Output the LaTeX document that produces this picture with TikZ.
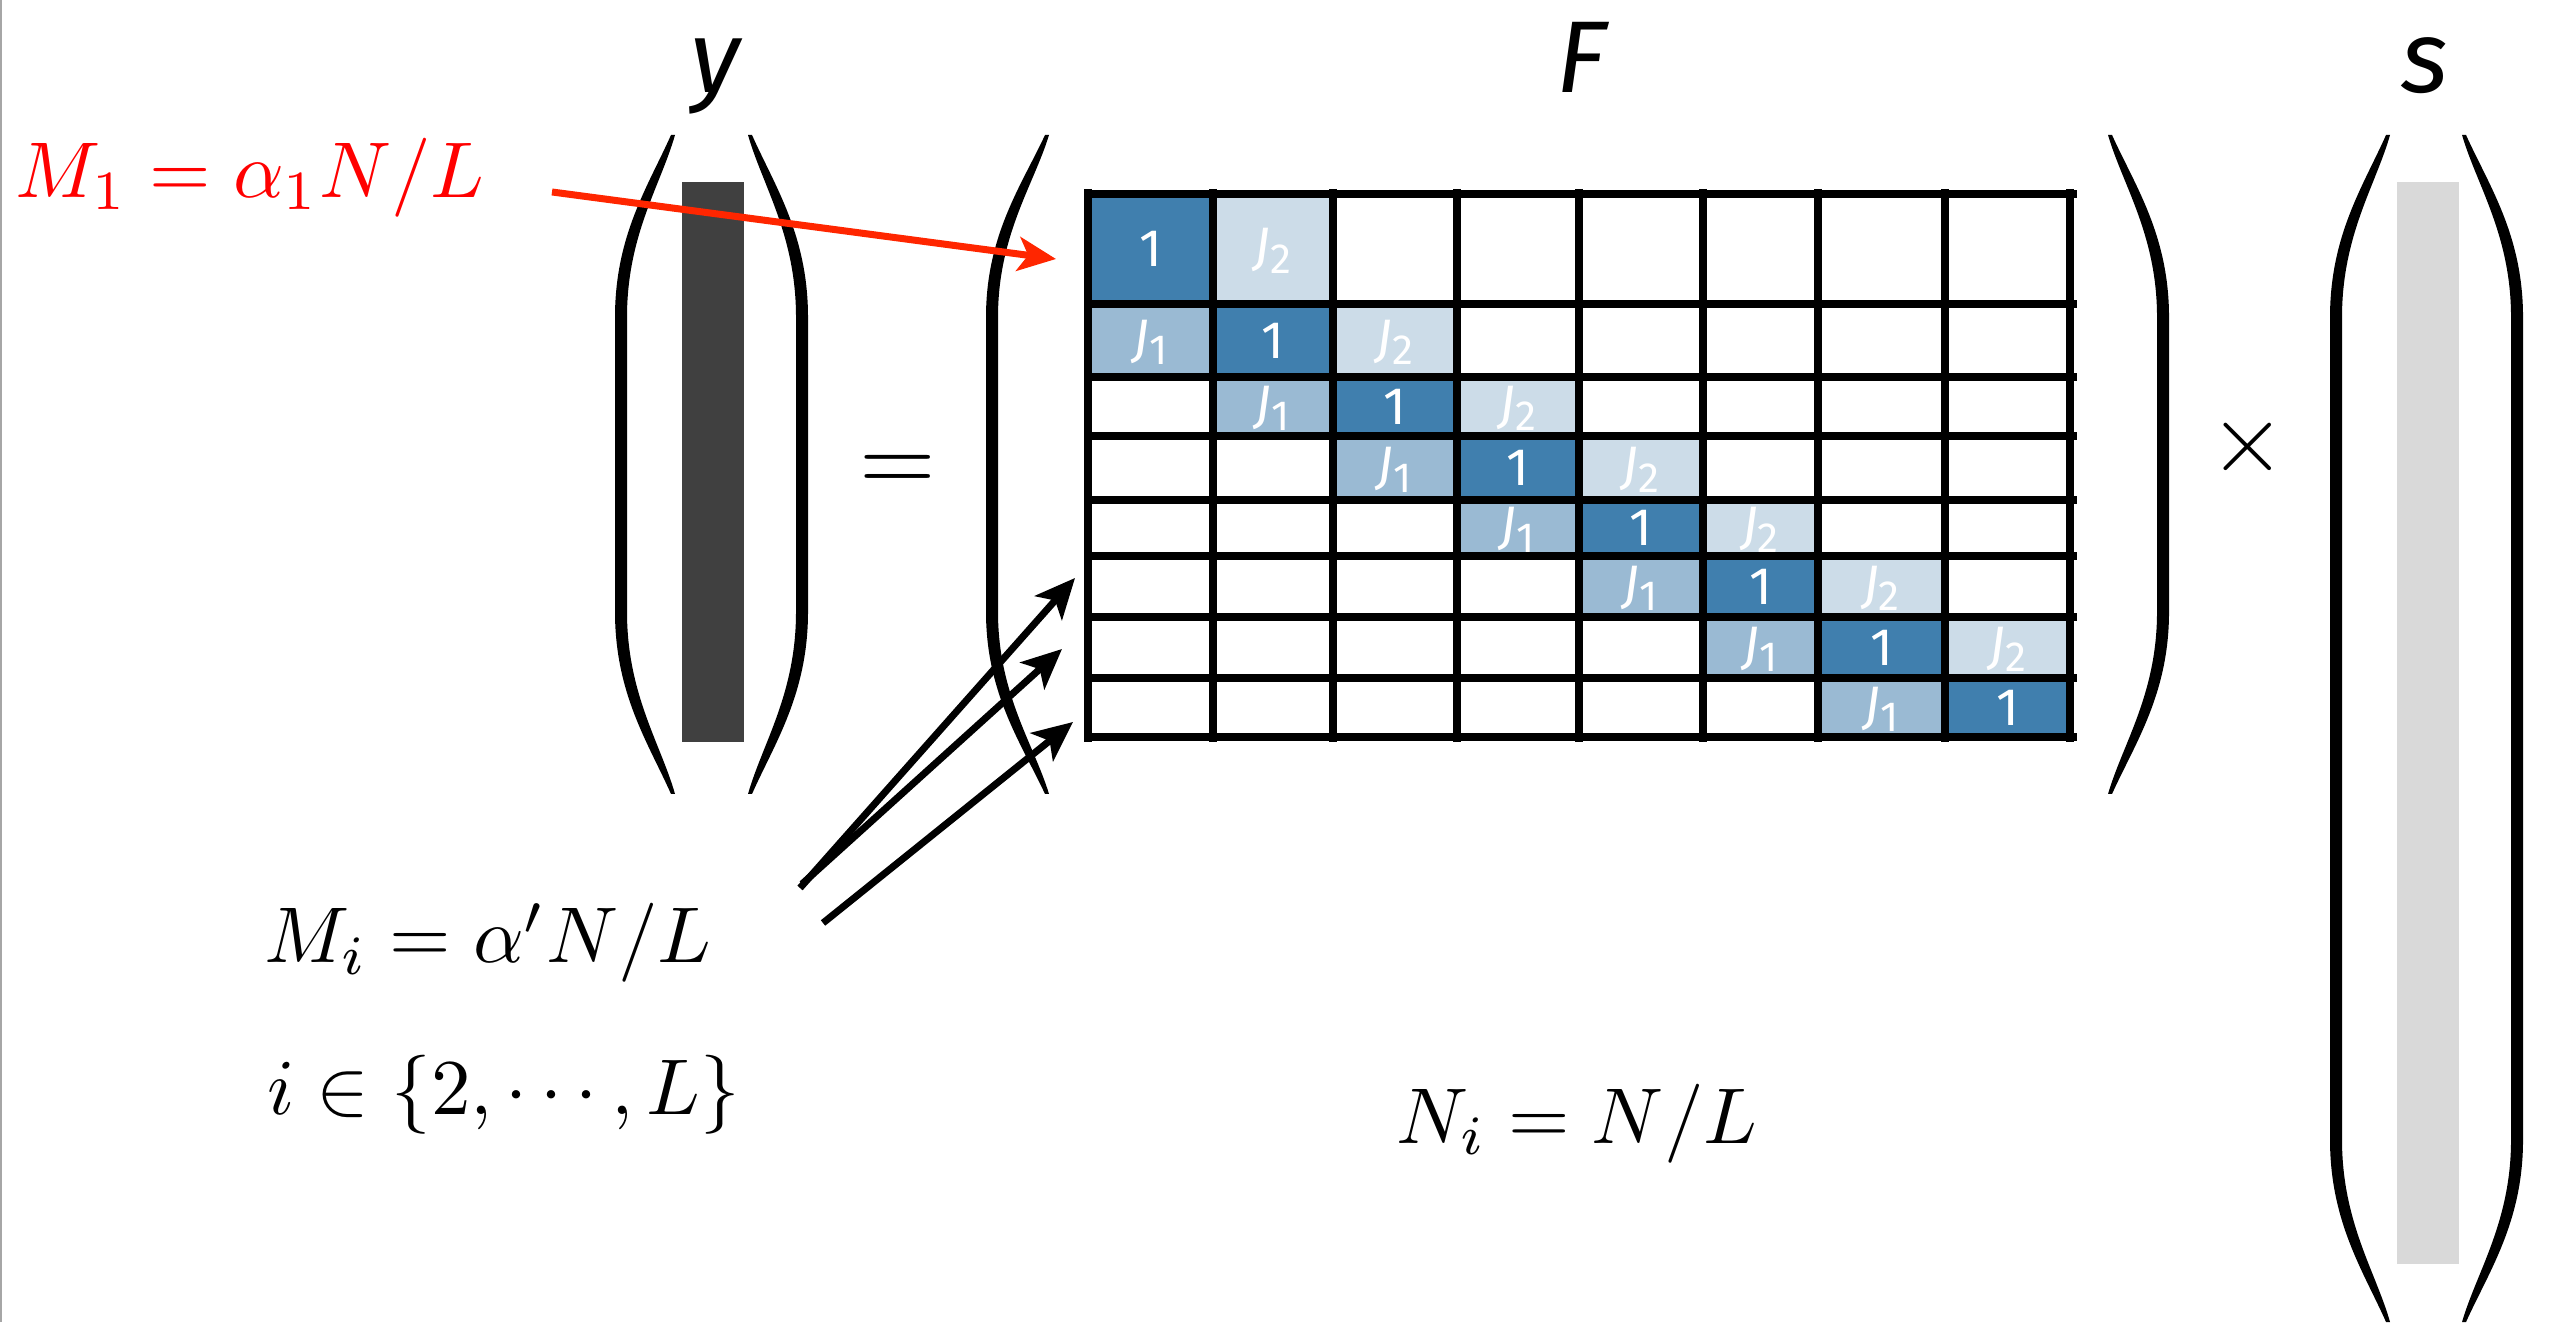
\documentclass[tikz,border=0pt]{standalone}
\usepackage{fontspec}
\setsansfont{Fira Sans}
\usetikzlibrary{arrows.meta, positioning, fit}

\definecolor{diagblue}{RGB}{64,127,174}
\definecolor{lowblue}{RGB}{154,186,211}
\definecolor{upblue}{RGB}{204,220,232}
\definecolor{ygray}{RGB}{64,64,64}
\definecolor{sgray}{RGB}{217,217,217}
\definecolor{arrowred}{RGB}{255,38,0}

% big round bracket: end x, middle x, top y, bottom y
\newcommand{\bigparen}[4]{%
  \fill ({#1-0.02},#3) .. controls ({#1+0.35*(#2-#1)-0.06},{#3-0.5}) and ({#2-0.06},{#3-1.0}) .. ({#2-0.06},{#3-1.82})
    -- ({#2-0.06},{#4+1.82}) .. controls ({#2-0.06},{#4+1.0}) and ({#1+0.35*(#2-#1)-0.06},{#4+0.5}) .. ({#1-0.02},#4)
    -- ({#1+0.02},#4) .. controls ({#1+0.35*(#2-#1)+0.06},{#4+0.5}) and ({#2+0.06},{#4+1.0}) .. ({#2+0.06},{#4+1.82})
    -- ({#2+0.06},{#3-1.82}) .. controls ({#2+0.06},{#3-1.0}) and ({#1+0.35*(#2-#1)+0.06},{#3-0.5}) .. ({#1+0.02},#3) -- cycle;}

\newcommand{\jlab}[1]{\textit{J}\raisebox{-0.3ex}{\fontsize{12}{12}\selectfont #1}}

\begin{document}
\begin{tikzpicture}[
    cell/.style={inner sep=0pt},
    celltext/.style={inner sep=0pt, anchor=base, text=white, font=\sffamily\fontsize{15}{15}\selectfont},
    gridline/.style={line width=0.085cm},
    mathlabel/.style={inner sep=0pt, anchor=base west, scale=2.25, transform shape},
    veclabel/.style={inner sep=0pt, anchor=base, font=\sffamily\itshape\fontsize{29}{34}\selectfont},
    bigop/.style={inner sep=0pt, anchor=base, scale=2.8, transform shape},
    redarrow/.style={-{Stealth[length=3.8mm, width=3.4mm, inset=1mm]}, line width=0.07cm, draw=arrowred},
    blackarrow/.style={-{Stealth[length=4mm, width=3.6mm, inset=1mm]}, line width=0.07cm}
]
    \useasboundingbox (0,0) rectangle (25.67,13.22);
    \draw[black!35, line width=0.6pt] (0.01,0) -- (0.01,13.22);

    % Vectors and brackets
    \fill[ygray] (6.82,5.80) rectangle (7.44,11.40);
    \fill[sgray] (23.97,0.58) rectangle (24.59,11.40);
    \bigparen{6.73}{6.21}{11.87}{5.28}
    \bigparen{7.50}{8.02}{11.87}{5.28}
    \bigparen{10.47}{9.92}{11.87}{5.28}
    \bigparen{21.10}{21.63}{11.87}{5.28}
    \bigparen{23.88}{23.36}{11.87}{0}
    \bigparen{24.64}{25.17}{11.87}{0}

    \node[veclabel] (ylab) at (7.15,12.29) {y};
    \node[veclabel] (flab) at (15.81,12.29) {F};
    \node[veclabel] (slab) at (24.25,12.29) {s};
    \node[bigop] (eq) at (8.98,8.30) {$=$};
    \node[bigop] (times) at (22.48,8.50) {$\times$};

    % Grid positions
    \foreach \x [count=\i from 0] in {10.88,12.13,13.33,14.57,15.79,17.03,18.18,19.45,20.70}
        \coordinate (c\i) at (\x,0);
    \foreach \y [count=\i from 0] in {11.28,10.18,9.45,8.86,8.22,7.66,7.05,6.44,5.85}
        \coordinate (r\i) at (0,\y);

    % Diagonal
    \foreach \i in {1,...,8}{
        \pgfmathtruncatemacro{\k}{\i-1}
        \node[cell, fill=diagblue, fit={(c\k|-r\k) (c\i|-r\i)}] (one\i) {};
        \node[celltext] (onetxt\i) at ([yshift=-0.18cm]one\i.center) {1};
    }
    % Below the diagonal
    \foreach \i in {2,...,8}{
        \pgfmathtruncatemacro{\k}{\i-1}
        \pgfmathtruncatemacro{\m}{\i-2}
        \node[cell, fill=lowblue, fit={(c\m|-r\k) (c\k|-r\i)}] (low\i) {};
        \node[celltext] (lowtxt\i) at ([yshift=-0.16cm]low\i.center) {\jlab{1}};
    }
    % Above the diagonal
    \foreach \i in {1,...,7}{
        \pgfmathtruncatemacro{\k}{\i-1}
        \pgfmathtruncatemacro{\n}{\i+1}
        \node[cell, fill=upblue, fit={(c\i|-r\k) (c\n|-r\i)}] (up\i) {};
        \node[celltext] (uptxt\i) at ([yshift=-0.16cm]up\i.center) {\jlab{2}};
    }

    % Grid lines
    \foreach \i in {0,...,8}
        \draw[gridline] ([xshift=-0.04cm]c0|-r\i) -- ([xshift=0.07cm]c8|-r\i);
    \foreach \i in {0,...,8}
        \draw[gridline] ([yshift=0.05cm]c\i|-r0) -- ([yshift=-0.05cm]c\i|-r8);

    % Labels
    \node[mathlabel, text=red] (mfirst) at (0.14,11.24) {$M_1 = \alpha_1 N/L$};
    \node[mathlabel] (mrest) at (2.63,3.59) {$M_i = \alpha' N/L$};
    \node[mathlabel] (iset) at (2.66,2.08) {$i \in \{2,\cdots,L\}$};
    \node[mathlabel] (nsize) at (13.95,1.79) {$N_i = N/L$};

    % Arrows
    \coordinate (redtail) at (5.52,11.30);
    \coordinate (redhead) at (10.56,10.63);
    \draw[redarrow] (redtail) -- (redhead);

    \coordinate (tailA) at (8.00,4.34);
    \coordinate (tailB) at (8.02,4.38);
    \coordinate (tailC) at (8.23,3.99);
    \coordinate (headA) at (10.75,7.44);
    \coordinate (headB) at (10.62,6.73);
    \coordinate (headC) at (10.73,6.00);
    \draw[blackarrow] (tailA) -- (headA);
    \draw[blackarrow] (tailB) -- (headB);
    \draw[blackarrow] (tailC) -- (headC);
\end{tikzpicture}
\end{document}
